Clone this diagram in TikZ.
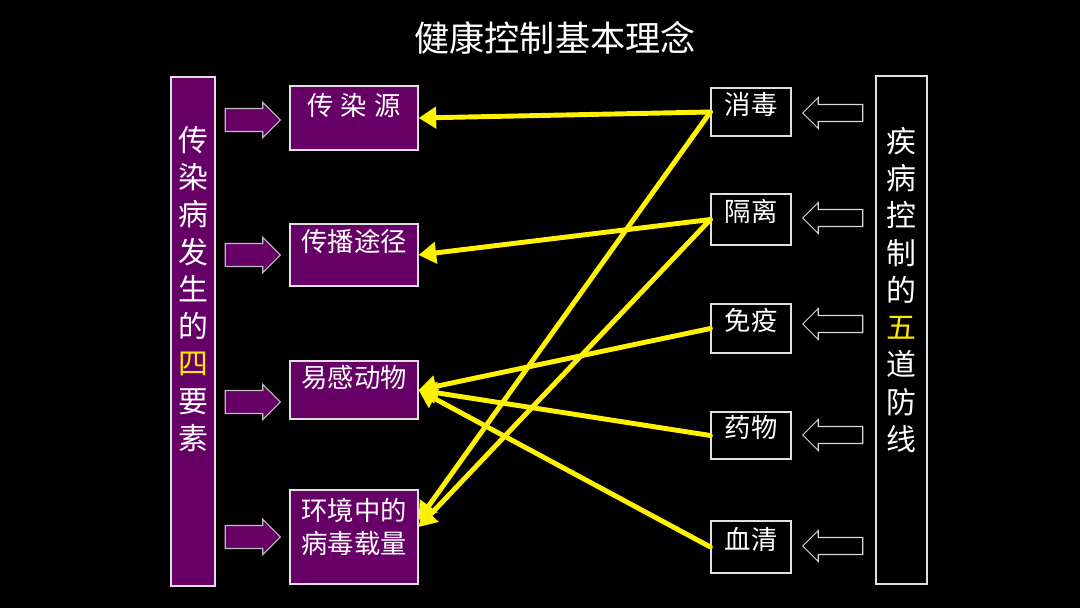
\documentclass[tikz,border=0pt]{standalone}
\usepackage{fontspec}
\setmainfont{Noto Sans CJK SC}
\usetikzlibrary{arrows.meta,shapes.arrows}
\definecolor{purp}{HTML}{660066}
\definecolor{gold}{HTML}{FFE800}

\begin{document}
\begin{tikzpicture}[x=0.02cm, y=-0.02cm,
    colbox/.style={draw=black!12, line width=0.7pt, inner sep=0pt},
    factor/.style={colbox, fill=purp, minimum width=2.56cm},
    barrier/.style={colbox, fill=black, minimum width=1.60cm},
    vtxt/.style={text=white, align=center, font=\fontsize{17}{21.2}\selectfont},
    btxt/.style={text=white, align=center, font=\fontsize{15}{18.4}\selectfont},
    parr/.style={single arrow, draw=black!25, fill=purp, line width=0.6pt,
      inner xsep=0pt, inner ysep=0.22cm,
      minimum height=1.10cm, single arrow head extend=0.12cm},
    harr/.style={single arrow, draw=black!15, fill=black, line width=0.6pt,
      inner xsep=0pt, inner ysep=0.16cm,
      minimum height=1.20cm, single arrow head extend=0.14cm,
      shape border rotate=180},
    link/.style={draw=yellow, line width=2.8pt, line cap=round,
      -{Triangle[length=10pt, width=12pt]}}]

  % fundo
  \fill[black] (0,0) rectangle (1080,608);
  \node[text=white, font=\fontsize{20}{23}\selectfont] (title) at (555,38) {健康控制基本理念};

  % coluna da esquerda: quatro fatores
  \node[colbox, fill=purp, minimum width=0.88cm, minimum height=10.18cm] (four) at (193,331.5) {};
  \node[vtxt] (fourt) at (193,289) {传\\染\\病\\发\\生\\的\\\textcolor{gold}{四}\\要\\素};
  \foreach \n/\y/\h/\ty/\t in {
      src/118/1.28/105/{传\hspace{4pt}染\hspace{4pt}源},
      rte/255/1.24/241/{传播途径},
      sus/390/1.16/378/{易感动物},
      env/537/1.88/527/{环境中的\\病毒载量}} {
    \node[factor, minimum height=\h cm] (\n) at (354,\y) {};
    \node[btxt] (\n t) at (354,\ty) {\t};
  }
  \foreach \n/\y in {pa/120, pb/255, pc/402, pd/537}
    \node[parr] (\n) at (247,\y) {};

  % coluna da direita: cinco barreiras
  \node[colbox, fill=black, minimum width=1.02cm, minimum height=10.16cm] (five) at (901.5,330) {};
  \node[vtxt] (fivet) at (901.5,290) {疾\\病\\控\\制\\的\\\textcolor{gold}{五}\\道\\防\\线};
  \foreach \n/\y/\h/\t in {
      dis/112/0.96/消毒,
      iso/219.5/1.02/隔离,
      imm/328.5/0.98/免疫,
      med/435.5/0.94/药物,
      ser/547/1.04/血清} {
    \node[barrier, minimum height=\h cm] (\n) at (751,\y) {};
    \node[btxt] (\n t) at (751,{\y-8}) {\t};
  }
  \foreach \n/\y in {ha/113, hb/218, hc/324, hd/435, he/546}
    \node[harr] (\n) at (837,\y) {};

  % ligacoes
  \draw[link] (dis.west) -- (src.east);
  \draw[link] (dis.west) -- ([yshift=0.34cm]env.east);
  \draw[link] (iso.west) -- (rte.east);
  \draw[link] (iso.west) -- ([yshift=0.20cm]env.east);
  \draw[link] (imm.west) -- (sus.east);
  \draw[link] (med.west) -- (sus.east);
  \draw[link] (ser.west) -- (sus.east);
\end{tikzpicture}
\end{document}
